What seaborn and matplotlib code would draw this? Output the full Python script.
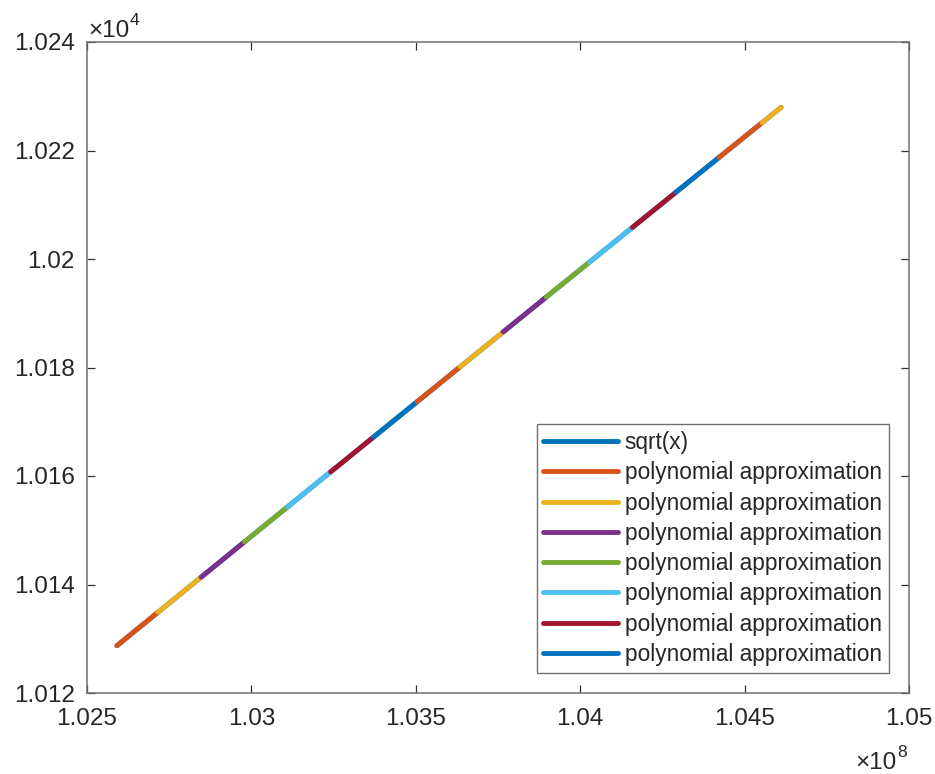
import numpy as np
import pandas as pd
import matplotlib
matplotlib.use("Agg")
import matplotlib.pyplot as plt
from matplotlib.ticker import FuncFormatter, FixedLocator
import seaborn as sns

# ---- data ----
# segment breakpoints on x (units of 1e8) and sqrt values at them (units of 1e4)
x_breaks = [1.02591, 1.02716, 1.02847, 1.02979, 1.03110, 1.03241, 1.03372, 1.03504,
            1.03635, 1.03766, 1.03897, 1.04028, 1.04159, 1.04291, 1.04422, 1.04553, 1.04611]
y_breaks = [10128.72, 10134.89, 10141.35, 10147.86, 10154.31, 10160.76, 10167.20, 10173.69,
            10180.13, 10186.56, 10192.99, 10199.41, 10205.83, 10212.30, 10218.71, 10225.12, 10227.95]
x_ticks = [1.025, 1.03, 1.035, 1.04, 1.045, 1.05]
y_ticks = [1.012, 1.014, 1.016, 1.018, 1.020, 1.022, 1.024]
matlab_colors = ["#0072BD", "#D95319", "#EDB120", "#7E2F8E", "#77AC30", "#4DBEEE", "#A2142F"]
n_segments = len(x_breaks) - 1
labels = ["sqrt(x)"] + ["polynomial approximation"] * n_segments

x_vals = [v * 1e8 for v in x_breaks]

sns.set_theme(style="white")
plt.rcParams["font.family"] = ["Liberation Sans", "DejaVu Sans"]

fig = plt.figure(figsize=(9.35, 7.74), dpi=100)
ax = fig.add_axes([87 / 935, 81 / 774, 822 / 935, 651 / 774])

FS = 16.3      # legend
TFS = 17.5     # tick labels
LW = 3.5
TXT = "#262626"

# full sqrt curve (blue, underneath)
df_all = pd.DataFrame({"x": x_vals, "y": y_breaks})
sns.lineplot(data=df_all, x="x", y="y", ax=ax, color=matlab_colors[0], linewidth=LW,
             label=labels[0], sort=False, estimator=None)

# polynomial approximation segments
for i in range(n_segments):
    seg = pd.DataFrame({"x": x_vals[i:i + 2], "y": y_breaks[i:i + 2]})
    c = matlab_colors[(i + 1) % len(matlab_colors)]
    sns.lineplot(data=seg, x="x", y="y", ax=ax, color=c, linewidth=LW,
                 label=labels[i + 1], sort=False, estimator=None)

ax.set_xlim(x_ticks[0] * 1e8, x_ticks[-1] * 1e8)
ax.set_ylim(y_ticks[0] * 1e4, y_ticks[-1] * 1e4)
ax.xaxis.set_major_locator(FixedLocator([t * 1e8 for t in x_ticks]))
ax.yaxis.set_major_locator(FixedLocator([t * 1e4 for t in y_ticks]))
ax.xaxis.set_major_formatter(FuncFormatter(lambda v, p: "%g" % round(v / 1e8, 6)))
ax.yaxis.set_major_formatter(FuncFormatter(lambda v, p: "%g" % round(v / 1e4, 6)))
ax.set_xlabel("")
ax.set_ylabel("")

axcol = "#707070"
for s in ax.spines.values():
    s.set_visible(True)
    s.set_color(axcol)
    s.set_linewidth(1.1)
ax.tick_params(axis="both", which="major", direction="in", length=5.5, width=0.9,
               color="#303030", labelsize=TFS, labelcolor=TXT,
               top=True, right=True, bottom=True, left=True)
ax.tick_params(axis="x", pad=11)
ax.tick_params(axis="y", pad=9)

# exponent labels (×10 + superscript), placed in pixel coordinates
def exp_label(x_px, base_px, exp, right=False):
    W, H = 935, 774
    sup_w = 11
    if right:
        x_exp = x_px - sup_w
        fig.text(x_exp / W, 1 - base_px / H, "×10", fontsize=TFS, color=TXT,
                 ha="right", va="baseline")
        fig.text(x_exp / W, 1 - (base_px - 12) / H, exp, fontsize=TFS * 0.72, color=TXT,
                 ha="left", va="baseline")
    else:
        t = fig.text(x_px / W, 1 - base_px / H, "×10", fontsize=TFS, color=TXT,
                     ha="left", va="baseline")
        fig.canvas.draw()
        bb = t.get_window_extent()
        fig.text(bb.x1 / W + 0.5 / W, 1 - (base_px - 12) / H, exp, fontsize=TFS * 0.72,
                 color=TXT, ha="left", va="baseline")

exp_label(88, 37, "4")
exp_label(908, 769, "8", right=True)

handles, labs = ax.get_legend_handles_labels()
leg = ax.legend(handles[:8], labs[:8], loc="lower right", fontsize=FS, frameon=True,
                fancybox=False, framealpha=1, edgecolor="#707070",
                handlelength=3.3, handletextpad=0.3, borderpad=0.3,
                labelspacing=0.32, borderaxespad=0.9)
leg.get_frame().set_linewidth(1.0)
for t in leg.get_texts():
    t.set_color(TXT)

fig.savefig("out.png", dpi=100)
